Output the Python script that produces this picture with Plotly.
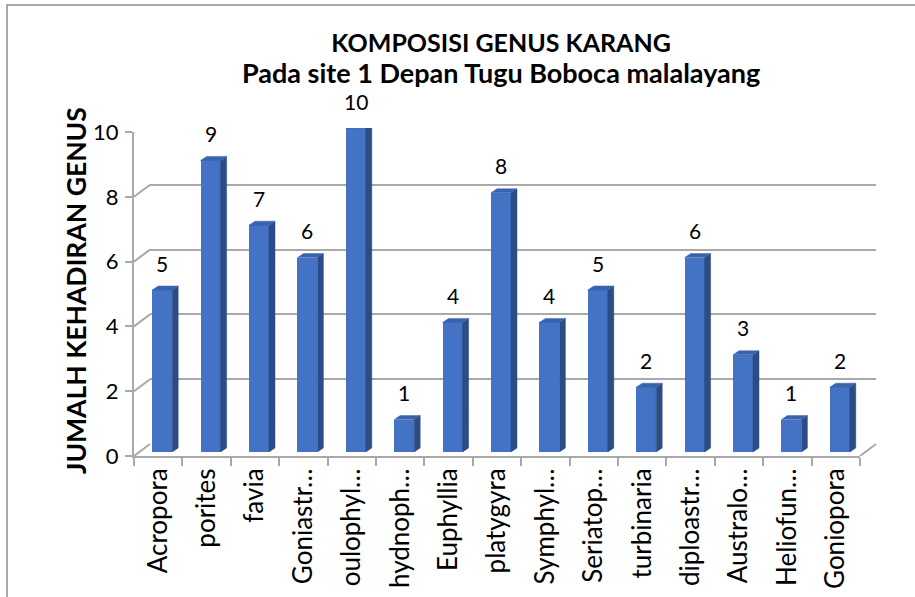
import plotly.graph_objects as go

# ---------------- data ----------------
genus = ["Acropora", "porites", "favia", "Goniastr…", "oulophyl…", "hydnoph…",
         "Euphyllia", "platygyra", "Symphyl…", "Seriatop…", "turbinaria",
         "diploastr…", "Australo…", "Heliofun…", "Goniopora"]
counts = [5, 9, 7, 6, 10, 1, 4, 8, 4, 5, 2, 6, 3, 1, 2]
y_ticks = [0, 2, 4, 6, 8, 10]
title_line1 = "KOMPOSISI GENUS KARANG"
title_line2 = "Pada site 1 Depan Tugu Boboca malalayang"
y_title = "JUMALH KEHADIRAN GENUS"

# ---------------- geometry (pixels) ----------------
W, H = 915, 597
FX0, FX1 = 134, 860      # front plane, left / right edge of category axis
PY0, PYTOP = 456, 132    # front plane, value 0 / value 10
YMAX = 10
DEPTH_DX, DEPTH_DY = 16, 12   # back wall offset (right, up)
BAR_DX, BAR_DY = 4, 4         # bar plane offset (right, up)
SIDE_DX, SIDE_DY = 6, 4       # bar side depth (pixels)
BAR_W = 0.413                 # bar width in category units

FONT = "Lato"
GRID = "#A9A9A9"
FRONT = "#4472C4"
SIDE = "#2B4C85"
TOP = "#3A63AE"


def xdom(dx):
    return [(FX0 + dx) / W, (FX1 + dx) / W]


def ydom(dy):
    return [1 - (PY0 - dy) / H, 1 - (PYTOP - dy) / H]


n = len(genus)
cat_px = (FX1 - FX0) / n
val_px = (PY0 - PYTOP) / YMAX
sdx = SIDE_DX / cat_px
sdy = SIDE_DY / val_px

fig = go.Figure()

# invisible trace on the front axes (gives the category axis its labels)
fig.add_trace(go.Scatter(x=genus, y=counts, mode="markers",
                         marker=dict(opacity=0), hoverinfo="skip",
                         showlegend=False, xaxis="x", yaxis="y"))
# invisible trace for back wall axes
fig.add_trace(go.Scatter(x=list(range(n)), y=counts, mode="markers",
                         marker=dict(opacity=0), hoverinfo="skip",
                         showlegend=False, xaxis="x2", yaxis="y2"))

idx = list(range(n))
# front faces
fig.add_trace(go.Bar(x=idx, y=counts, width=BAR_W,
                     marker=dict(color=FRONT, line=dict(width=0)),
                     showlegend=False, xaxis="x3", yaxis="y3"))

# side and top faces
sx, sy, tx, ty = [], [], [], []
for i, v in enumerate(counts):
    r = i + BAR_W / 2
    l = i - BAR_W / 2
    sx += [r, r + sdx, r + sdx, r, r, None]
    sy += [0, sdy, v + sdy, v, 0, None]
    tx += [l, r, r + sdx, l + sdx, l, None]
    ty += [v, v, v + sdy, v + sdy, v, None]
fig.add_trace(go.Scatter(x=sx, y=sy, mode="lines", fill="toself",
                         fillcolor=SIDE, line=dict(color=SIDE, width=0.5),
                         hoverinfo="skip", showlegend=False,
                         xaxis="x3", yaxis="y3"))
fig.add_trace(go.Scatter(x=tx, y=ty, mode="lines", fill="toself",
                         fillcolor=TOP, line=dict(color=TOP, width=0.5),
                         hoverinfo="skip", showlegend=False,
                         xaxis="x3", yaxis="y3"))

# value labels
annotations = []
for i, v in enumerate(counts):
    annotations.append(dict(x=i, y=v, xref="x3", yref="y3", text=str(v),
                            showarrow=False, yanchor="middle", yshift=27,
                            font=dict(family=FONT, size=21, color="black")))

# two-line chart title (one text block)
annotations.append(dict(
    x=501 / W, y=1 - 58 / H, xref="paper", yref="paper",
    text=("<b><span style='font-size:25px'>" + title_line1 + "</span></b><br>"
          "<b><span style='font-size:27px'>" + title_line2 + "</span></b>"),
    showarrow=False, xanchor="center", yanchor="middle", align="center",
    font=dict(family=FONT, size=24, color="black")))
annotations.append(dict(x=76 / W, y=1 - 291 / H, xref="paper", yref="paper",
                        text="<b>" + y_title + "</b>", showarrow=False,
                        textangle=-90, xanchor="center", yanchor="middle",
                        font=dict(family=FONT, size=26.5, color="black")))

# depth lines: left wall diagonals and floor right diagonal
shapes = []
for t in y_ticks:
    shapes.append(dict(type="line", xref="paper", yref="y",
                       xsizemode="pixel", ysizemode="pixel",
                       xanchor=FX0 / W, yanchor=t,
                       x0=0, x1=DEPTH_DX, y0=0, y1=DEPTH_DY,
                       line=dict(color=GRID, width=2)))
shapes.append(dict(type="line", xref="paper", yref="y",
                   xsizemode="pixel", ysizemode="pixel",
                   xanchor=FX1 / W, yanchor=y_ticks[0],
                   x0=0, x1=DEPTH_DX, y0=0, y1=DEPTH_DY,
                   line=dict(color=GRID, width=2)))
# chart border
shapes.append(dict(type="rect", xref="paper", yref="paper",
                   x0=7 / W, x1=1.02, y0=-0.02, y1=1 - 5 / H,
                   line=dict(color="#8C8C8C", width=1.5)))

fig.update_layout(
    width=W, height=H,
    margin=dict(l=0, r=0, t=0, b=0, autoexpand=False),
    paper_bgcolor="white", plot_bgcolor="rgba(0,0,0,0)",
    showlegend=False,
    annotations=annotations, shapes=shapes,
    xaxis=dict(domain=xdom(0), anchor="y", type="category",
               categoryorder="array", categoryarray=genus,
               range=[-0.5, n - 0.5], showline=True, linecolor=GRID,
               linewidth=2, ticks="outside", tickson="boundaries",
               ticklen=8, tickwidth=2, tickcolor=GRID, tickangle=-90,
               showgrid=False, zeroline=False, automargin=False,
               tickfont=dict(family=FONT, size=26, color="black")),
    yaxis=dict(domain=ydom(0), anchor="x", range=[0, YMAX],
               tickvals=y_ticks, showline=True, linecolor=GRID, linewidth=2,
               ticks="outside", ticklen=7, tickwidth=2, tickcolor=GRID,
               showgrid=False, zeroline=False, ticklabelstandoff=2,
               automargin=False,
               tickfont=dict(family=FONT, size=22, color="black")),
    xaxis2=dict(domain=xdom(DEPTH_DX), anchor="y2", range=[-0.5, n - 0.5],
                visible=False),
    yaxis2=dict(domain=ydom(DEPTH_DY), anchor="x2", range=[0, YMAX],
                tickvals=y_ticks, showgrid=True, gridcolor=GRID, gridwidth=2,
                showticklabels=False, ticks="", showline=False,
                zeroline=False),
    xaxis3=dict(domain=xdom(BAR_DX), anchor="y3", range=[-0.5, n - 0.5],
                visible=False),
    yaxis3=dict(domain=ydom(BAR_DY), anchor="x3", range=[0, YMAX],
                visible=False),
    bargap=0,
)

fig.write_html("out.html",
               config={"displayModeBar": False},
               post_script="document.body.style.margin='0';"
                           "document.body.style.overflow='hidden';")
